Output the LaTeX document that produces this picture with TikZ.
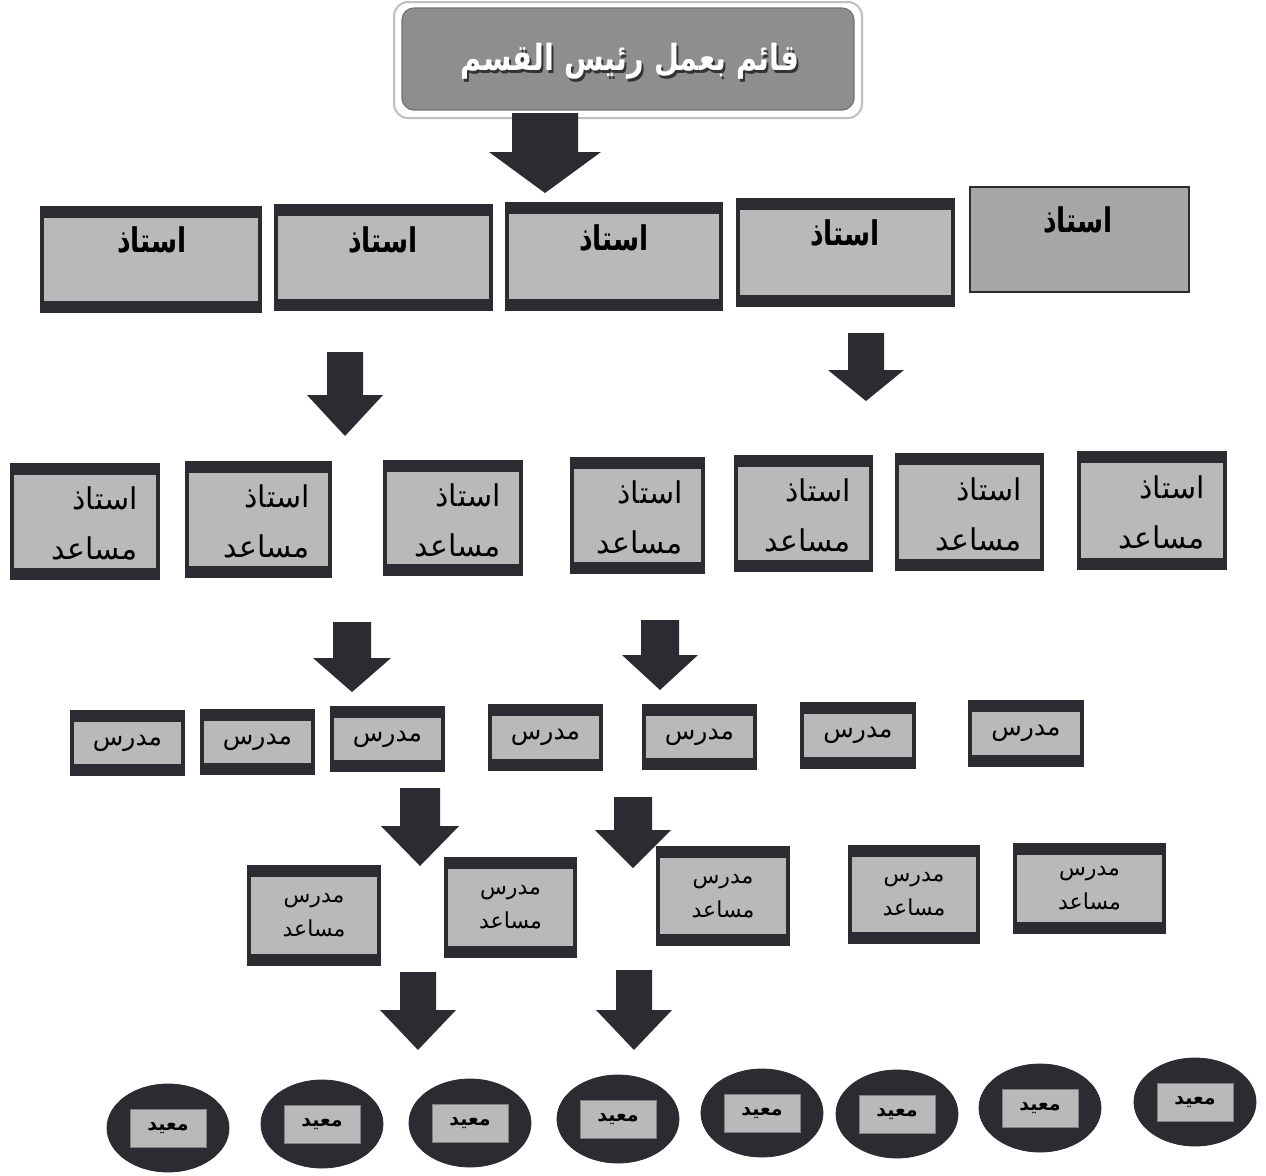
\documentclass[tikz,border=0pt]{standalone}
\usepackage{fontspec}
\newfontfamily\ar[Script=Arabic]{DejaVu Sans}
\TeXXeTstate=1
\usetikzlibrary{shapes.geometric}
\definecolor{dk}{HTML}{2B2B31}
\definecolor{lg}{HTML}{B9B9B9}
\definecolor{mg}{HTML}{A7A7A7}
\definecolor{tg}{HTML}{8E8E8E}
\tikzset{
  bandnode/.style={rectangle, fill=dk, inner sep=0pt, draw=none,
    path picture={\fill[lg] ([xshift=2pt,yshift=-6pt]path picture bounding box.north west)
      rectangle ([xshift=-2pt,yshift=6pt]path picture bounding box.south east);}},
  plainnode/.style={rectangle, fill=mg, draw=dk, line width=1pt, inner sep=0pt},
  ovalnode/.style={ellipse, fill=dk, draw=dk, inner sep=0pt, minimum width=61pt, minimum height=44pt},
  tagnode/.style={rectangle, fill=lg, draw=dk!60, line width=0.4pt, inner sep=0pt, minimum width=38pt, minimum height=19pt, font=\ar\bfseries\fontsize{9.5}{11}\selectfont},
  bigtxt/.style={font=\ar\bfseries\fontsize{17}{20}\selectfont, inner sep=0pt, xscale=0.78},
  headtxt/.style={font=\ar\bfseries\fontsize{18}{20}\selectfont, inner sep=0pt, xscale=0.8},
  twotxt/.style={font=\ar\fontsize{15}{25}\selectfont, align=right, inner sep=0pt, anchor=east},
  onetxt/.style={font=\ar\fontsize{12.5}{14}\selectfont, inner sep=0pt},
  smalltwo/.style={font=\ar\fontsize{11}{17}\selectfont, align=center, inner sep=0pt},
  arrowfill/.style={fill=dk}
}
\newcommand\bandbox[5]{%
  \node[bandnode, minimum width={(#4-#2)*0.5pt}, minimum height={(#5-#3)*0.5pt}] (#1) at ({(#2+#4)/2},{(#3+#5)/2}) {};}
\newcommand\blockarr[6]{%
  \fill[arrowfill] ({#1-#5},#2) -- ({#1+#5},#2) -- ({#1+#5},#3) -- ({#1+#6},#3) -- (#1,#4) -- ({#1-#6},#3) -- ({#1-#5},#3) -- cycle;}
\begin{document}
\begin{tikzpicture}[x=0.5pt,y=-0.5pt]
\useasboundingbox[fill=white] (0,0) rectangle (1266,1175);
% top box
\node[rectangle, rounded corners=7pt, fill=white, draw=black!25, line width=1pt,
  minimum width=234pt, minimum height=58pt] (halo) at (628,60) {};
\node[rectangle, rounded corners=6pt, fill=tg, draw=black!55, line width=0.6pt,
  minimum width=226pt, minimum height=51pt] (head) at (628,59) {};
\node[headtxt, text=black!80] (headsh) at (632,64) {\beginR قائم بعمل رئيس القسم\endR};
\node[headtxt, text=white] (headtx) at (630,61) {\beginR قائم بعمل رئيس القسم\endR};
% arrows
\blockarr{545}{113}{152}{193}{33}{56}
\blockarr{345}{352}{395}{436}{18}{38}
\blockarr{866}{333}{370}{401}{18}{38}
\blockarr{352}{622}{658}{692}{19}{39}
\blockarr{660}{620}{655}{690}{19}{38}
\blockarr{420}{788}{826}{866}{20}{39}
\blockarr{633}{797}{830}{868}{19}{38}
\blockarr{418}{972}{1010}{1050}{18}{38}
\blockarr{634}{970}{1010}{1050}{18}{38}
% row 1
\bandbox{a1}{40}{206}{262}{313}
\bandbox{a2}{274}{204}{493}{311}
\bandbox{a3}{505}{202}{723}{311}
\bandbox{a4}{736}{198}{955}{307}
\node[plainnode, minimum width=109.5pt, minimum height=52.5pt] (a5) at (1079.5,239.5) {};
\node[bigtxt] (a1t) at (152,240) {\beginR استاذ\endR};
\node[bigtxt] (a2t) at (383,240) {\beginR استاذ\endR};
\node[bigtxt] (a3t) at (614,238) {\beginR استاذ\endR};
\node[bigtxt] (a4t) at (845,233) {\beginR استاذ\endR};
\node[bigtxt] (a5t) at (1078,220) {\beginR استاذ\endR};
% row 2
\foreach \n/\xa/\ya/\xb/\yb in {1/10/463/160/580, 2/185/461/332/578, 3/383/460/523/576, 4/570/457/705/574, 5/734/455/873/572, 6/895/453/1044/571, 7/1077/451/1227/570}{
  \bandbox{b\n}{\xa}{\ya}{\xb}{\yb}
  \node[twotxt] (b\n t) at ({\xb-22},{(\ya+\yb)/2+2}) {\beginR استاذ\endR\\\beginR مساعد\endR};
}
% row 3
\foreach \n/\xa/\ya/\xb/\yb in {1/70/710/185/776, 2/200/709/315/775, 3/330/706/445/772, 4/488/704/603/771, 5/642/704/757/770, 6/800/702/916/769, 7/968/700/1084/767}{
  \bandbox{c\n}{\xa}{\ya}{\xb}{\yb}
  \node[onetxt] (c\n t) at ({(\xa+\xb)/2},{(\ya+\yb)/2}) {\beginR مدرس\endR};
}
% row 4
\foreach \n/\xa/\ya/\xb/\yb in {1/247/865/381/966, 2/444/857/577/958, 3/656/846/790/946, 4/848/845/980/944, 5/1013/843/1166/934}{
  \bandbox{d\n}{\xa}{\ya}{\xb}{\yb}
  \node[smalltwo] (d\n t) at ({(\xa+\xb)/2},{(\ya+\yb)/2}) {\beginR مدرس\endR\\\beginR مساعد\endR};
}
% row 5
\foreach \n/\cx/\cy in {1/168/1128, 2/322/1124, 3/470/1123, 4/618/1119, 5/762/1113, 6/897/1114, 7/1040/1108, 8/1195/1102}{
  \node[ovalnode] (e\n) at (\cx,\cy) {};
  \node[tagnode] (e\n t) at (\cx,\cy) {\beginR معيد\endR};
}
\end{tikzpicture}
\end{document}
